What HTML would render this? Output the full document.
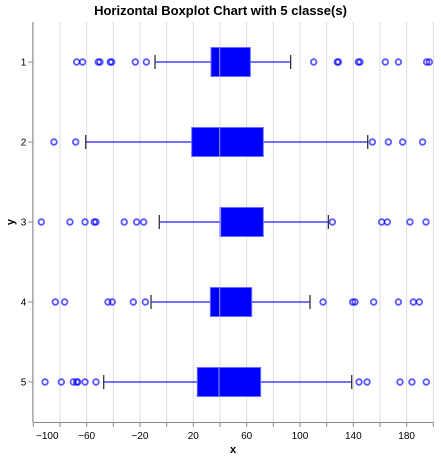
<!DOCTYPE html>
<html><head><meta charset="utf-8"><style>
body{margin:0;background:#fff;font-family:"Liberation Sans",sans-serif}
</style></head><body>
<svg id="c" width="441" height="459" xmlns="http://www.w3.org/2000/svg"></svg>
<script>
const categories=["1","2","3","4","5"];
const q1s=[33.3,18.8,40,32.8,23];
const medians=[39.8,39.8,40.5,39.8,39.3];
const q3s=[62.8,72.5,72.5,63.8,70.5];
const lowWhiskers=[-8.7,-60.7,-5.5,-11.7,-47.2];
const highWhiskers=[93,150.8,121.3,107.5,138.8];
const outliers=[
[-67.5,-63,-51.3,-50,-42.3,-41.2,-23.5,-15.2,110.3,128,128.8,143.8,145,164,173.8,195,197],
[-84.5,-68.2,154.3,166.3,177,192],
[-94,-72.5,-61.2,-54.3,-53,-31.8,-22.5,-17.2,124.3,161.3,165.5,182.5,194.5],
[-83.5,-76.5,-44,-40.8,-25,-16,117.3,139.5,141.3,155.3,173.8,185,189.5],
[-91.2,-79,-70,-67.5,-66.7,-61.2,-53,144.3,150.3,175,184,194.7]];
const xTicks=[-100,-80,-60,-40,-20,0,20,40,60,80,100,120,140,160,180,200];
const xLabels=[-100,-60,-20,20,60,100,140,180];

const L=33.3,R=433.3,T=22,B=422;
const xs=v=>L+(v+100)/300*(R-L);
const ys=i=>T+(i+0.5)*(B-T)/categories.length;
const svg=document.getElementById('c');
const NS="http://www.w3.org/2000/svg";
function mk(tag,attrs,parent){const e=document.createElementNS(NS,tag);for(const k in attrs)e.setAttribute(k,attrs[k]);(parent||svg).appendChild(e);return e;}
let t=mk('text',{x:220.5,y:15,'text-anchor':'middle','font-size':13,'font-weight':'bold'});
t.textContent='Horizontal Boxplot Chart with 5 classe(s)';


xTicks.forEach(v=>{const g=mk('line',{x1:xs(v),x2:xs(v),y1:T,y2:B,stroke:'#ddd'});


const tk=mk('line',{x1:xs(v),x2:xs(v),y1:B,y2:B+5,stroke:'#888'});

});
xLabels.forEach(v=>{const lb=mk('text',{x:v===-100?xs(v)+14:xs(v),y:B+17,'text-anchor':'middle','font-size':10,fill:'#000'});
lb.textContent=v<0?'\u2212'+(-v):String(v);

});
let ax=mk('line',{x1:L,x2:R,y1:B+0.5,y2:B+0.5,stroke:'#888'});


let ay=mk('line',{x1:L-0.5,x2:L-0.5,y1:T,y2:B,stroke:'#888'});


let xt=mk('text',{x:233,y:453,'text-anchor':'middle','font-size':11,'font-weight':'bold'});xt.textContent='x';


let yt=mk('text',{x:14,y:222,'text-anchor':'middle','font-size':11,'font-weight':'bold',transform:'rotate(-90 14 222)'});yt.textContent='y';


categories.forEach((c,i)=>{const y=ys(i);
const tk=mk('line',{x1:L-5,x2:L,y1:y,y2:y,stroke:'#888'});


const lb=mk('text',{x:L-7,y:y+3.5,'text-anchor':'end','font-size':10});lb.textContent=c;


const w=mk('line',{x1:xs(lowWhiskers[i]),x2:xs(highWhiskers[i]),y1:y,y2:y,stroke:'#0000ff','stroke-opacity':0.55,'stroke-width':2});


[lowWhiskers[i],highWhiskers[i]].forEach(v=>{const cap=mk('line',{x1:xs(v),x2:xs(v),y1:y-7,y2:y+7,stroke:'#333','stroke-width':1.3});

});
const b=mk('rect',{x:xs(q1s[i]),y:y-14.5,width:xs(q3s[i])-xs(q1s[i]),height:29,fill:'#0000ff',stroke:'#6a6aff','stroke-width':1});


const m=mk('line',{x1:xs(medians[i]),x2:xs(medians[i]),y1:y-14.5,y2:y+14.5,stroke:'#9a9aff','stroke-width':1});


outliers[i].forEach(v=>{const o=mk('circle',{cx:xs(v),cy:y,r:2.8,fill:'none',stroke:'#0000ff','stroke-opacity':0.65,'stroke-width':1.8});

});
});
</script>
</body></html>
